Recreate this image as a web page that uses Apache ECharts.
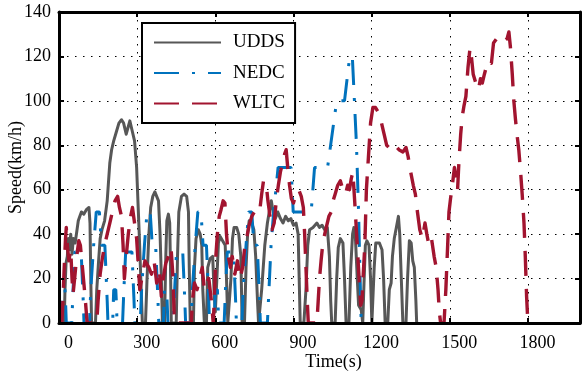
<!DOCTYPE html>
<html><head><meta charset="utf-8">
<script src="https://cdn.jsdelivr.net/npm/echarts@6/dist/echarts.min.js"></script>
<style>html,body{margin:0;padding:0;background:#fff}#c{width:582px;height:375px}</style>
</head><body><div id="c"></div>
<script>
const xTicks = [0, 300, 600, 900, 1200, 1500, 1800];
const yTicks = [0, 20, 40, 60, 80, 100, 120, 140];
const seriesNames = ['UDDS', 'NEDC', 'WLTC'];

const uddsT = [0,20,23,27,32,36,40,45,50,55,62,68,74,80,86,95,105,115,119,122,125,140,145,152,158,165,175,185,195,202,210,220,230,240,248,258,265,272,280,290,298,303,308,314,320,332,338,345,352,360,368,375,382,388,393,397,405,410,414,420,425,428,431,450,455,460,470,480,490,497,500,504,516,520,526,535,542,548,552,558,566,571,580,590,595,600,606,612,618,628,638,643,648,655,660,666,672,682,690,698,703,712,718,724,730,740,748,755,762,766,772,778,790,800,810,815,822,830,840,850,860,870,880,890,900,910,918,922,926,940,948,955,962,975,990,1000,1010,1020,1030,1038,1043,1047,1060,1066,1072,1080,1090,1096,1102,1113,1120,1127,1132,1138,1145,1150,1160,1166,1170,1176,1182,1190,1196,1201,1206,1210,1216,1230,1240,1246,1252,1262,1268,1275,1280,1287,1295,1303,1308,1314,1320,1332,1338,1345,1352,1358,1364,1370,1373];
const uddsV = [0,0,15,27,30,38,33,40,31,38,36,41,46,48,50,49,51,52,45,20,0,0,15,28,38,42,46,55,72,78,82,86,90,91.5,90,85,88,91,87,82,70,55,40,20,0,0,20,40,52,57,59,59,55,40,20,0,0,30,46,49,45,25,0,0,30,50,57,58,57,50,25,0,0,25,38,42,40,35,15,0,0,25,29,30,15,5,20,36,39,37,35,20,0,0,20,38,43,43,40,30,0,0,25,40,46,45,42,30,10,0,0,15,35,45,52,55,50,47,50,47,45,48,46,47,44,45,40,20,0,0,15,35,42,43,45,43,44,42,43,30,10,0,0,20,34,38,36,20,0,0,25,40,43,38,20,8,6,0,15,35,37,35,20,0,0,25,36,36,33,20,0,0,15,18,30,38,43,48,40,20,0,0,20,37,36,28,25,10,0];

const nedcT = [0,11,15,23,25,28,49,54,56,61,85,93,96,117,122,124,133,135,143,155,163,176,185,188,
  195,206,210,218,220,223,244,249,251,256,280,288,291,312,317,319,328,330,338,350,358,371,380,383,
  390,401,405,413,415,418,439,444,446,451,475,483,486,507,512,514,523,525,533,545,553,566,575,578,
  585,596,600,608,610,613,634,639,641,646,670,678,681,702,707,709,718,720,728,740,748,761,770,773,
  780,800,806,808,814,816,824,826,841,891,899,968,981,1031,1066,1096,1116,1126,1142,1150,1160,1180];
const nedcV = [0,0,15,15,10,0,0,15,15,32,32,10,0,0,15,15,35,35,50,50,35,35,10,0,
  0,0,15,15,10,0,0,15,15,32,32,10,0,0,15,15,35,35,50,50,35,35,10,0,
  0,0,15,15,10,0,0,15,15,32,32,10,0,0,15,15,35,35,50,50,35,35,10,0,
  0,0,15,15,10,0,0,15,15,32,32,10,0,0,15,15,35,35,50,50,35,35,10,0,
  0,0,15,15,35,35,50,50,70,70,50,50,70,70,100,100,120,120,80,50,0,0];

const wltcT = [0,11,15,20,25,28,32,38,45,50,54,60,68,76,82,90,100,108,145,150,158,165,175,185,195,205,215,225,232,240,246,251,258,266,275,282,290,298,305,310,318,330,345,355,365,375,385,393,400,410,420,430,438,443,508,512,520,530,540,550,558,565,575,585,592,596,602,608,615,622,630,637,643,650,658,665,675,685,695,705,712,720,730,740,750,760,770,778,785,795,802,810,818,826,834,842,850,858,866,872,878,885,892,900,910,920,930,938,943,948,953,957,990,995,1000,1006,1012,1020,1028,1036,1045,1052,1060,1070,1080,1090,1100,1108,1115,1122,1128,1135,1145,1152,1158,1163,1168,1174,1180,1188,1196,1205,1215,1225,1238,1248,1258,1275,1290,1305,1320,1332,1340,1350,1360,1368,1376,1385,1395,1405,1412,1420,1430,1440,1448,1455,1460,1465,1478,1485,1492,1497,1503,1510,1518,1525,1530,1535,1542,1548,1555,1562,1570,1578,1583,1590,1600,1610,1618,1625,1633,1642,1650,1660,1668,1680,1695,1710,1720,1727,1733,1740,1746,1752,1758,1765,1772,1778,1785,1790,1795,1800];
const wltcV = [0,0,10,25,38,43,35,28,33,20,13,20,30,37,35,25,12,0,0,10,22,28,35,40,45,50,55,57,52,48,35,20,30,40,48,52,45,38,25,15,20,28,25,22,28,18,24,12,20,27,30,34,20,0,0,10,18,15,20,25,15,18,20,10,0,10,30,40,48,51,55,54,40,30,25,30,22,28,20,25,33,38,44,48,50,49,50,58,64,63,55,48,42,45,55,62,68,72,76,78,70,62,56,54,58,60,57,52,40,25,10,0,0,10,20,28,35,40,44,48,50,55,58,62,64,60,58,62,60,65,68,55,35,20,8,10,22,35,60,75,90,97,97,95,90,85,80,78,80,78,77,79,75,68,62,58,50,42,38,45,40,35,38,30,25,15,5,0,0,15,35,50,56,62,70,65,60,72,85,93,98,102,115,124,120,112,108,105,110,108,112,116,118,117,126,128,129,127,128,131,124,112,100,92,85,78,68,58,45,30,12,0];

function pairs(t, v) { return t.map((x, i) => [x, v[i]]); }

const FONT = '"Liberation Serif","Times New Roman",serif';
const gridDash = [1.5, 6.5];
const chart = echarts.init(document.getElementById('c'), null, { renderer: 'canvas' });

function auxX(pos) {
  return { type: 'value', min: 0, max: 2000, interval: 300, position: pos, z: 10,
    axisLine: { show: true, onZero: false, lineStyle: { color: '#000', width: 3 } },
    axisTick: { show: true, inside: true, length: 5, lineStyle: { color: '#000', width: 2 } },
    axisLabel: { show: false }, splitLine: { show: false } };
}
function auxY(pos) {
  return { type: 'value', min: 0, max: 140, interval: 20, position: pos, z: 10,
    axisLine: { show: true, onZero: false, lineStyle: { color: '#000', width: 3 } },
    axisTick: { show: true, inside: true, length: 5, lineStyle: { color: '#000', width: 2 } },
    axisLabel: { show: false }, splitLine: { show: false } };
}

chart.setOption({
  animation: false,
  grid: { left: 59, right: 2, top: 12, bottom: 52, containLabel: false, outerBoundsMode: 'none' },
  legend: {
    data: seriesNames, orient: 'vertical', left: 142, top: 23,
    padding: [10, 10, 10, 11], itemWidth: 67, itemHeight: 18, itemGap: 11.5,
    borderColor: '#000', borderWidth: 2, backgroundColor: '#fff',
    itemStyle: { opacity: 0, color: 'rgba(0,0,0,0)', borderWidth: 0 },
    textStyle: { fontFamily: FONT, fontSize: 19, color: '#000', padding: [0, 0, 0, 7], lineHeight: 18 }
  },
  xAxis: [
    { type: 'value', min: 0, max: 2000, interval: 300, position: 'bottom',
      axisLine: { show: false }, axisTick: { show: false },
      axisLabel: { formatter: v => xTicks.includes(v) ? String(v) : '', color: '#000', fontFamily: FONT, fontSize: 18, margin: 11, padding: [0, 0, 0, 19] },
      splitLine: { show: true, lineStyle: { color: '#000', width: 1, type: gridDash } },
      name: 'Time(s)', nameLocation: 'middle', nameGap: 30, nameMoveOverlap: false,
      nameTextStyle: { fontFamily: FONT, fontSize: 18, color: '#000', padding: [0, 0, 0, 28] } },
    auxX('bottom'), auxX('top')
  ],
  yAxis: [
    { type: 'value', min: 0, max: 140, interval: 20, position: 'left',
      axisLine: { show: false }, axisTick: { show: false },
      axisLabel: { formatter: v => yTicks.includes(v) ? String(v) : '', color: '#000', fontFamily: FONT, fontSize: 18, margin: 8 },
      splitLine: { show: true, lineStyle: { color: '#000', width: 1, type: gridDash } },
      name: 'Speed(km/h)', nameLocation: 'middle', nameGap: 34, nameMoveOverlap: false,
      nameTextStyle: { fontFamily: FONT, fontSize: 18, color: '#000' } },
    auxY('left'), auxY('right')
  ],
  series: [
    { name: 'UDDS', type: 'line', xAxisIndex: 0, yAxisIndex: 0, symbol: 'none', data: pairs(uddsT, uddsV),
      lineStyle: { color: '#575757', width: 3, join: 'round' }, itemStyle: { color: '#575757' } },
    { name: 'NEDC', type: 'line', xAxisIndex: 0, yAxisIndex: 0, symbol: 'none', data: pairs(nedcT, nedcV),
      lineStyle: { color: '#0072BD', width: 3, type: [25, 13, 3, 13] }, itemStyle: { color: '#0072BD' } },
    { name: 'WLTC', type: 'line', xAxisIndex: 0, yAxisIndex: 0, symbol: 'none', data: pairs(wltcT, wltcV),
      lineStyle: { color: '#A2142F', width: 3.4, type: [25, 13], join: 'round' }, itemStyle: { color: '#A2142F' } }
  ]
});
</script></body></html>
